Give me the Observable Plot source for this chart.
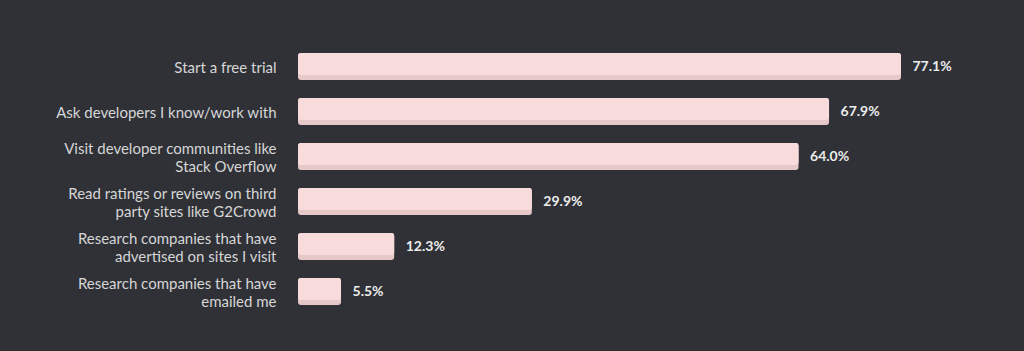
<!DOCTYPE html>
<html>
<head>
<meta charset="utf-8">
<script src="https://cdn.jsdelivr.net/npm/d3@7"></script>
<script src="https://cdn.jsdelivr.net/npm/@observablehq/plot@0.6"></script>
<style>
  html, body { margin: 0; padding: 0; background: #2f3136; }
  #chart { width: 1024px; height: 351px; }
</style>
</head>
<body>
<div id="chart"></div>
<script>
const categories = [
  "Start a free trial",
  "Ask developers I know/work with",
  "Visit developer communities like\nStack Overflow",
  "Read ratings or reviews on third\nparty sites like G2Crowd",
  "Research companies that have\nadvertised on sites I visit",
  "Research companies that have\nemailed me"
];
const values = [77.1, 67.9, 64.0, 29.9, 12.3, 5.5];

const data = categories.map((c, i) => ({category: c, value: values[i]}));

const chart = Plot.plot({
  width: 1024,
  height: 351,
  marginLeft: 298,
  marginRight: 123,
  marginTop: 32,
  marginBottom: 25,
  style: {background: "#2f3136", color: "#d6d6d6", fontFamily: "Lato, sans-serif", fontSize: "15px"},
  x: {domain: [0, 77.1], axis: null},
  y: {domain: categories, padding: 0.41, label: null},
  marks: [
    Plot.axisY({tickSize: 0, tickPadding: 22, fontSize: 15, lineHeight: 1.2, fill: "#d6d6d6", label: null}),
    Plot.barX(data, {x: "value", y: "category", fill: "#e7c8c8", rx: 3}),
    Plot.barX(data, {x: "value", y: "category", fill: "#f8dcdc", rx: 3, insetBottom: 5}),
    Plot.text(data, {x: "value", y: "category", text: d => d.value.toFixed(1) + "%", dx: 11, textAnchor: "start", fill: "#ececec", fontWeight: "bold", fontSize: 14})
  ]
});
document.getElementById("chart").append(chart);
</script>
</body>
</html>
